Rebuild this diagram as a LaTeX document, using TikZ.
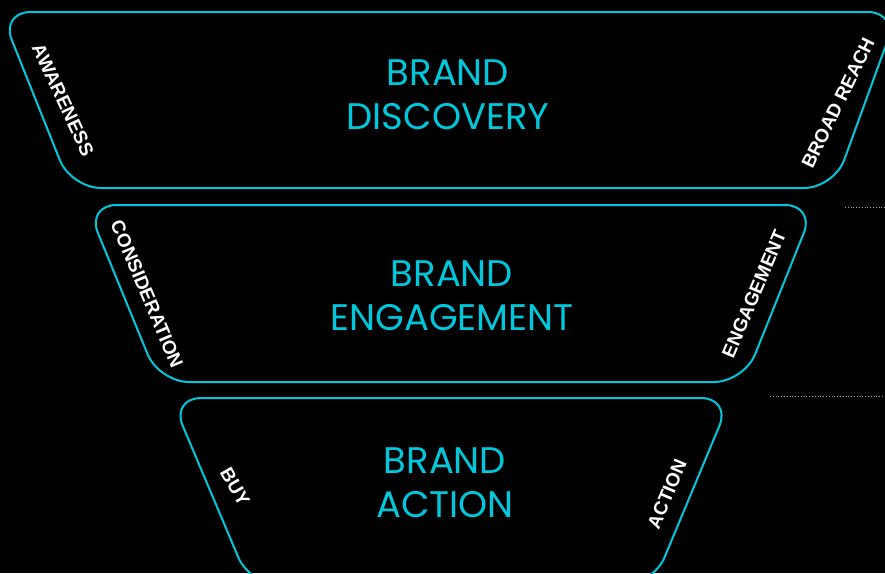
\documentclass[tikz,border=0pt]{standalone}
\usepackage{fontspec}
\setmainfont{Poppins}
\newfontfamily\sidefont{Liberation Sans}
\definecolor{funnelcyan}{HTML}{00C8DC}
\tikzset{>=latex}
\tikzset{
    stage/.style={draw=funnelcyan, line width=2pt, rounded corners=30pt},
    title/.style={text=funnelcyan, align=center, font=\fontsize{37}{44}\selectfont},
    side/.style={text=white, font=\sidefont\bfseries\fontsize{19}{22}\selectfont},
    guide/.style={draw=gray!70, dotted, line width=.8pt}
}

\begin{document}
\begin{tikzpicture}[x=1pt, y=-1pt]
    \fill[black](0, 0)rectangle(885, 573);
    \clip(0, 0)rectangle(885, 573);
    % funnel stages
    \draw[stage](.6, 12)--(898, 12)--(834, 188)--(71, 188)--cycle;
    \draw[stage](86.5, 205)--(815, 205)--(744, 382)--(159, 382)--cycle;
    \draw[stage](171, 398)--(731, 398)--(653, 585)--(250, 585)--cycle;
    \node[title](discovery) at (448, 95){BRAND\\DISCOVERY};
    \node[title](engagement) at (452, 296){BRAND\\ENGAGEMENT};
    \node[title](action) at (445, 483){BRAND\\ACTION};
    \node[side, rotate=-65](awareness) at (63, 100){AWARENESS};
    \node[side, rotate=64](reach) at (838, 103){BROAD REACH};
    \node[side, rotate=-67](consideration) at (147, 294){CONSIDERATION};
    \node[side, rotate=67](engage) at (754, 294){ENGAGEMENT};
    \node[side, rotate=-60](buy) at (235, 487){BUY};
    \node[side, rotate=67](act) at (667, 494){ACTION};
    \draw[guide](845, 207)--(885, 207);
    \draw[guide](770, 396)--(885, 396);
\end{tikzpicture}
\end{document}
